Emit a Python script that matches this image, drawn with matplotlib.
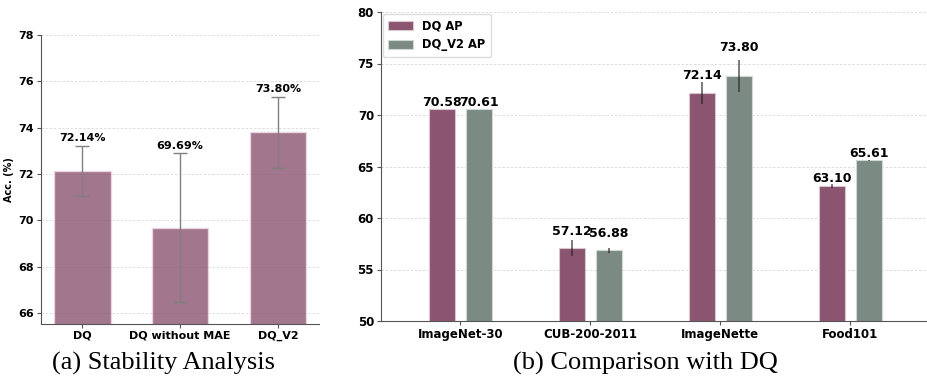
import matplotlib
matplotlib.use("Agg")
import matplotlib.pyplot as plt
import numpy as np

# ---- data (a) ----
a_methods = ["DQ", "DQ without MAE", "DQ_V2"]
a_acc = [72.14, 69.69, 73.80]
a_err = [1.09, 3.20, 1.54]

# ---- data (b) ----
b_datasets = ["ImageNet-30", "CUB-200-2011", "ImageNette", "Food101"]
b_dq = [70.58, 57.12, 72.14, 63.10]
b_dq_err = [0.0, 0.79, 1.08, 0.16]
b_v2 = [70.61, 56.88, 73.80, 65.61]
b_v2_err = [0.0, 0.24, 1.53, 0.05]
b_dq_lab_off = [0.23, 1.16, 1.26, 0.27]
b_v2_lab_off = [0.20, 1.21, 2.32, 0.19]
series_names = ["DQ AP", "DQ_V2 AP"]

c_dq = "#8b5470"
c_v2 = "#7b8b84"

fig = plt.figure(figsize=(9.27, 3.79), dpi=100)
W, H = 927, 379

def ax_rect(x0, y0, x1, y1):
    return [x0 / W, 1 - y1 / H, (x1 - x0) / W, (y1 - y0) / H]

bold = dict(fontweight="bold")
grid_kw = dict(axis="y", linestyle=(0, (3, 2)), color="#d9d9d9",
               linewidth=0.6, zorder=0)

# ---------- (a) ----------
ax1 = fig.add_axes(ax_rect(41, 35, 319, 324))
x = np.arange(len(a_methods))
ax1.bar(x, a_acc, width=0.58, color=c_dq, alpha=0.8, edgecolor="#f2dbe6",
        linewidth=1.0, yerr=a_err, capsize=5,
        error_kw=dict(ecolor="gray", elinewidth=1.0, capthick=1.0), zorder=2)
for xi, v, e in zip(x, a_acc, a_err):
    ax1.text(xi, v + e + 0.12, f"{v:.2f}%", ha="center", va="bottom",
             fontsize=8, **bold)
ax1.set_ylim(65.53, 78)
ax1.set_xlim(-0.42, 2.42)
ax1.set_yticks([66, 68, 70, 72, 74, 76, 78])
ax1.set_xticks(x)
ax1.set_xticklabels(a_methods, fontsize=8, **bold)
for t in ax1.get_yticklabels():
    t.set_fontweight("bold"); t.set_fontsize(8)
ax1.set_ylabel("Acc. (%)", fontsize=7, labelpad=3, **bold)
ax1.grid(**grid_kw)
ax1.set_axisbelow(True)
for s in ["top", "right"]:
    ax1.spines[s].set_visible(False)
for s in ["left", "bottom"]:
    ax1.spines[s].set_color("#555555")
ax1.tick_params(length=3, color="#555555", pad=2)

# ---------- (b) ----------
ax2 = fig.add_axes(ax_rect(381, 12, 927, 321))
xb = np.arange(len(b_datasets))
bw = 0.2
off = 0.14
ax2.bar(xb - off, b_dq, width=bw, color=c_dq, edgecolor="#d8c6cf",
        linewidth=0.8, label=series_names[0], zorder=2)
ax2.bar(xb + off, b_v2, width=bw, color=c_v2, edgecolor="#d0d8d4",
        linewidth=0.8, label=series_names[1], zorder=2)
ax2.errorbar(xb - off, b_dq, yerr=b_dq_err, fmt="none", ecolor="#222222",
             elinewidth=1.2, alpha=0.7, zorder=3)
ax2.errorbar(xb + off, b_v2, yerr=b_v2_err, fmt="none", ecolor="#222222",
             elinewidth=1.2, alpha=0.7, zorder=3)
for xi, v, o in zip(xb, b_dq, b_dq_lab_off):
    ax2.text(xi - off, v + o - 0.2, f"{v:.2f}", ha="center", va="bottom",
             fontsize=9, **bold)
for xi, v, o in zip(xb, b_v2, b_v2_lab_off):
    ax2.text(xi + off, v + o - 0.2, f"{v:.2f}", ha="center", va="bottom",
             fontsize=9, **bold)
ax2.set_ylim(50, 80)
ax2.set_xlim(-0.61, 3.59)
ax2.set_yticks([50, 55, 60, 65, 70, 75, 80])
ax2.set_xticks(xb)
ax2.set_xticklabels(b_datasets, fontsize=8.5, **bold)
for t in ax2.get_yticklabels():
    t.set_fontweight("bold"); t.set_fontsize(8.5)
ax2.grid(**grid_kw)
ax2.set_axisbelow(True)
for s in ["top", "right"]:
    ax2.spines[s].set_visible(False)
for s in ["left", "bottom"]:
    ax2.spines[s].set_color("#555555")
ax2.tick_params(length=3, color="#555555", pad=2)
ax2.legend(loc="upper left", prop=dict(weight="bold", size=8.3),
           frameon=True, framealpha=1, edgecolor="#dddddd",
           handlelength=2.1, handleheight=0.8, borderpad=0.5,
           borderaxespad=0.15, bbox_to_anchor=(0.0, 1.0))

# ---------- captions ----------
fig.text(163 / W, 1 - 370 / H, "(a) Stability Analysis", ha="center",
         va="baseline", fontsize=19, family="Liberation Serif")
fig.text(645 / W, 1 - 370 / H, "(b) Comparison with DQ", ha="center",
         va="baseline", fontsize=19, family="Liberation Serif")

fig.savefig("out.png", dpi=100)
